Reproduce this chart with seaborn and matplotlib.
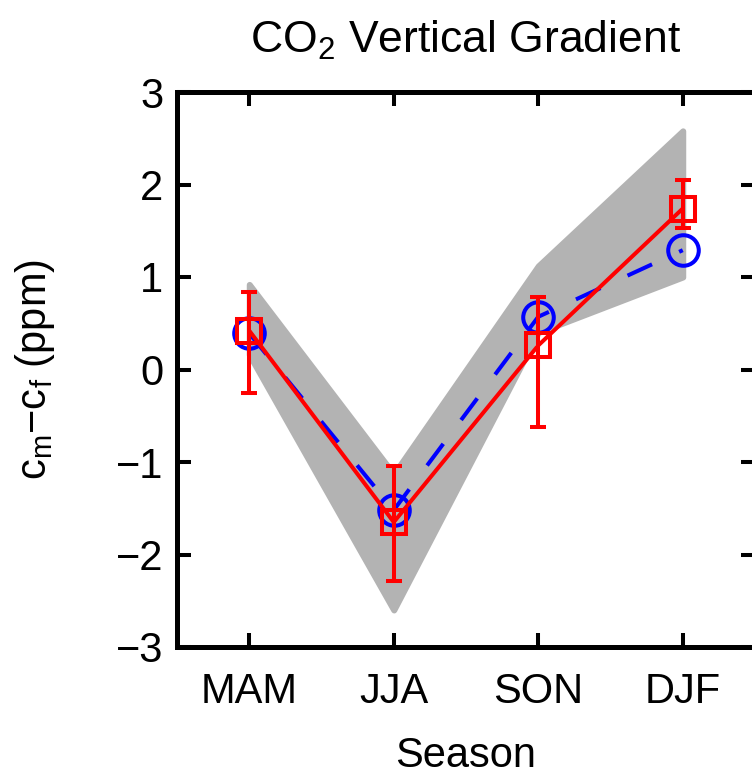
import numpy as np
import pandas as pd
import matplotlib
matplotlib.use('Agg')
import matplotlib.pyplot as plt
import seaborn as sns

# values
seasons = ['MAM', 'JJA', 'SON', 'DJF']
model_vals = [0.39, -1.52, 0.57, 1.29]
obs_vals = [0.42, -1.65, 0.26, 1.74]
obs_low = [-0.25, -2.29, -0.62, 1.53]
obs_high = [0.84, -1.04, 0.78, 2.05]
band_low = [0.16, -2.60, 0.40, 1.00]
band_high = [0.92, -1.13, 1.12, 2.58]
y_ticks = [-3, -2, -1, 0, 1, 2, 3]

sns.set_style('ticks')
plt.rcParams['font.family'] = ['Liberation Sans', 'DejaVu Sans']
plt.rcParams['mathtext.fontset'] = 'custom'
plt.rcParams['mathtext.rm'] = 'Liberation Sans'
plt.rcParams['mathtext.it'] = 'Liberation Sans:italic'
plt.rcParams['text.color'] = 'black'
plt.rcParams['axes.labelcolor'] = 'black'

df = pd.DataFrame({'season': seasons, 'model': model_vals, 'obs': obs_vals})
pos = np.arange(len(seasons))

fig = plt.figure(figsize=(7.52, 7.77), dpi=100)
fig.patch.set_facecolor('white')
ax = fig.add_axes([177 / 752, 130 / 777, 578 / 752, 555 / 777])

# spread of the model ensemble
ax.fill_between(pos, band_low, band_high, facecolor='#b3b3b3', edgecolor='#b3b3b3',
                linewidth=4.3, joinstyle='round', zorder=1)

sns.lineplot(data=df, x='season', y='model', ax=ax, color='blue', linewidth=2.9,
             linestyle=(0, (6.7, 7.4)), marker='o', markersize=22,
             markerfacecolor='none', markeredgecolor='blue', markeredgewidth=2.9,
             zorder=3)

err = [np.array(obs_vals) - np.array(obs_low), np.array(obs_high) - np.array(obs_vals)]
ax.errorbar(pos, obs_vals, yerr=err, fmt='none', ecolor='red', elinewidth=2.9,
            capsize=5.8, capthick=2.9, zorder=4)

sns.lineplot(data=df, x='season', y='obs', ax=ax, color='red', linewidth=2.9,
             marker='s', markersize=17, markerfacecolor='none',
             markeredgecolor='red', markeredgewidth=2.9, zorder=5)

ax.set_xlim(-0.5, 3.5)
ax.set_ylim(-3, 3)
ax.set_xticks(pos, seasons)
ax.set_yticks(y_ticks)
ax.tick_params(direction='in', length=10, width=2.9, top=True, right=True,
               labelsize=30, color='black', labelcolor='black')
ax.tick_params(axis='x', pad=18)
ax.tick_params(axis='y', pad=10)
for sp in ax.spines.values():
    sp.set_linewidth(3.6)
    sp.set_color('black')

ax.set_xlabel('Season', fontsize=30, labelpad=17)
ax.set_ylabel('c$_{\\mathregular{m}}$\u2212c$_{\\mathregular{f}}$ (ppm)', fontsize=30, labelpad=42)
ax.set_title('CO$_{\\mathregular{2}}$ Vertical Gradient', fontsize=32, pad=28)

fig.savefig('out.png', dpi=100)
